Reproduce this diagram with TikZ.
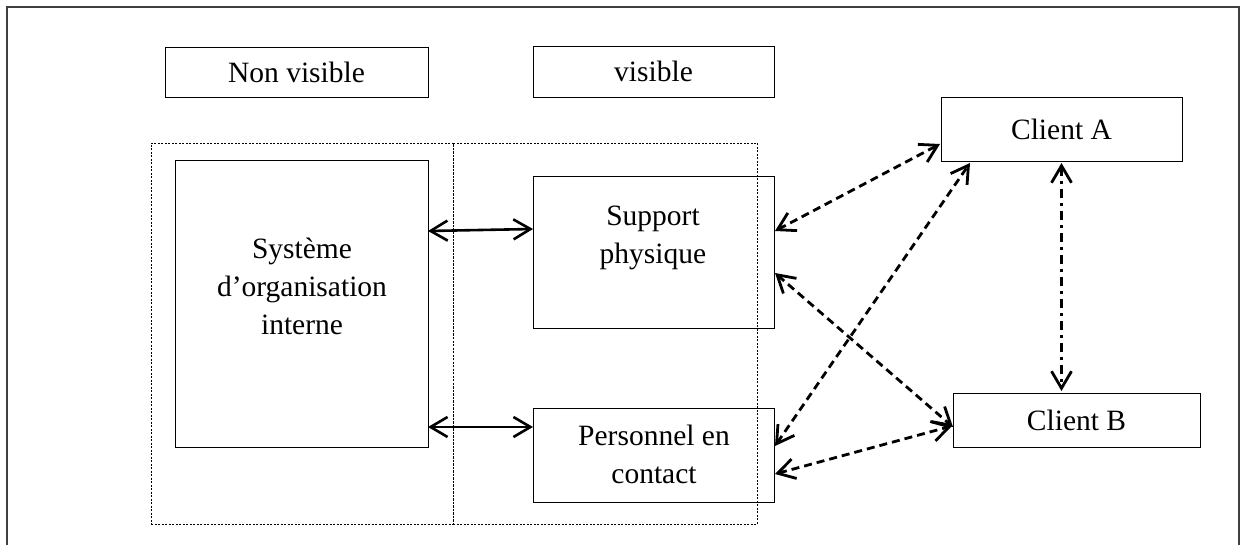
\documentclass[tikz,border=0pt]{standalone}
\usepackage{fontspec}
\setmainfont{Liberation Serif}
\usetikzlibrary{arrows.meta,calc}
\begin{document}
\begin{tikzpicture}[x=1pt,y=-1pt,
  txt/.style={font=\fontsize{29.5}{38}\selectfont},
  box/.style={txt,draw=black,line width=0.9pt,inner sep=0pt,outer sep=0pt},
  lbl/.style={txt,align=center,inner sep=0pt},
  zone/.style={draw=black,line width=0.9pt,dash pattern=on 2pt off 1.5pt,inner sep=0pt,outer sep=0pt},
  solidlink/.style={line width=2.6pt,{Straight Barb[length=17pt,width=20pt]}-{Straight Barb[length=17pt,width=20pt]}},
  dashlink/.style={line width=2.8pt,dash pattern=on 8pt off 5pt,{Straight Barb[length=17pt,width=20pt]}-{Straight Barb[length=17pt,width=20pt]}},
  dotlink/.style={line width=2.8pt,dash pattern=on 9pt off 5pt on 3pt off 5pt,{Straight Barb[length=17pt,width=20pt]}-{Straight Barb[length=17pt,width=20pt]}}
]
\useasboundingbox (0,0) rectangle (1240,545);
% outer frame
\draw[line width=1.3pt,draw=black!75] (7,560) -- (7,7) -- (1239,7) -- (1239,560);

% zones
\node[zone,minimum width=302pt,minimum height=381pt] (zl) at (302,333.5) {};
\node[zone,minimum width=304pt,minimum height=381pt] (zr) at (605,333.5) {};

% header boxes
\node[box,minimum width=263pt,minimum height=50pt] (nv) at (296.5,72) {Non visible};
\node[box,minimum width=241pt,minimum height=51pt] (vis) at (653.5,71.5) {visible};

% main boxes
\node[box,minimum width=253pt,minimum height=287pt] (sys) at (301.5,303.5) {};
\node[lbl] (sysT) at (302,286) {Système\\d’organisation\\interne};
\node[box,minimum width=241pt,minimum height=152pt] (sup) at (653.5,252) {};
\node[lbl] (supT) at (653,238) {Support\\physique};
\node[box,minimum width=241pt,minimum height=94pt] (per) at (653.5,455) {};
\node[lbl] (perT) at (654,454.5) {Personnel en\\contact};

% clients
\node[box,minimum width=241pt,minimum height=64pt] (ca) at (1061.5,129) {Client A};
\node[box,minimum width=247pt,minimum height=54pt] (cb) at (1076.5,420) {Client B};

% connectors
\draw[solidlink] ($(sys.north east)+(0,71)$) -- ($(sup.north west)+(0,53)$);
\draw[solidlink] ($(sys.north east)+(0,267)$) -- ($(per.north west)+(0,19)$);

\draw[dashlink] ($(sup.north east)+(1,55)$) -- ($(ca.north west)+(-1,47)$);
\draw[dashlink] ($(per.north east)+(1,38)$) -- ($(ca.south west)+(29,2)$);
\draw[dashlink] ($(sup.north east)+(1,97)$) -- ($(cb.north west)+(0,34)$);
\draw[dashlink] ($(per.north east)+(1,66)$) -- ($(cb.north west)+(-1,33)$);

\draw[dotlink] ($(ca.south)+(0,2)$) -- ($(ca.south |- cb.north)+(0,-2)$);
\end{tikzpicture}
\end{document}
